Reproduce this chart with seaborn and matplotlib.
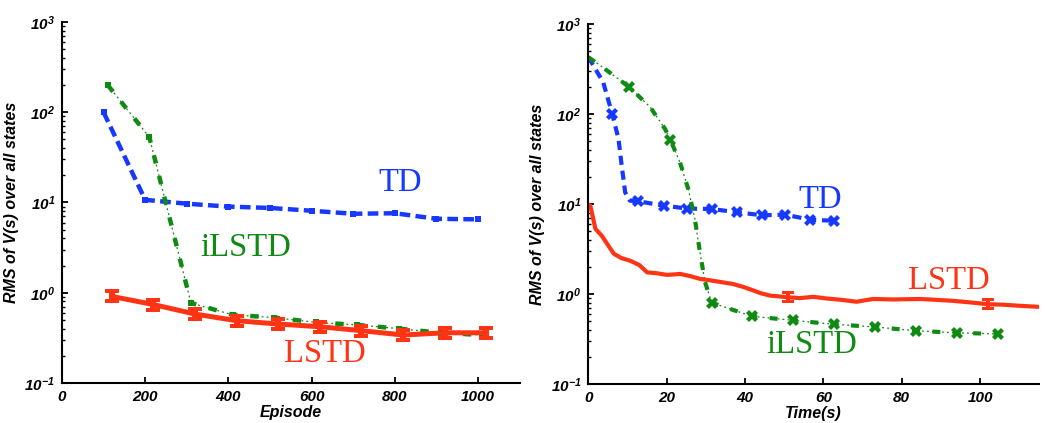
import matplotlib
matplotlib.use("Agg")
import matplotlib.pyplot as plt
from matplotlib.path import Path
from matplotlib.ticker import LogLocator, NullFormatter, FixedLocator
import numpy as np
import pandas as pd
import seaborn as sns

# ---- Error vs. number of episodes ----
episode_td = [100, 200, 300, 400, 500, 600, 700, 800, 900, 1000]
rms_td_ep = [100, 10.7, 9.7, 9.0, 8.7, 8.1, 7.5, 7.6, 6.6, 6.5]

episode_ilstd = [110, 210, 310, 410, 510, 610, 710, 810, 910, 1010]
rms_ilstd_ep = [200, 53, 0.77, 0.57, 0.53, 0.47, 0.44, 0.40, 0.36, 0.34]

episode_lstd = [120, 220, 320, 420, 520, 620, 720, 820, 920, 1020]
rms_lstd_ep = [0.91, 0.74, 0.58, 0.49, 0.45, 0.42, 0.38, 0.34, 0.36, 0.36]

# ---- Error vs. wall-clock time ----
time_td = [0, 3.8, 6.1, 7.7, 8.5, 9.4, 10.6, 12.8, 19.2, 25.2, 31.5, 37.9,
           44.3, 50.3, 56.6, 62.8]
rms_td_t = [430, 225, 100, 53, 27, 13.5, 10.9, 10.7, 9.6, 8.9, 8.8, 8.1,
            7.5, 7.6, 6.7, 6.5]
marks_td_t = [2, 7, 8, 9, 10, 11, 12, 13, 14, 15]

time_ilstd = [0, 2.5, 10.5, 15.8, 19.6, 20.9, 23.4, 25.5, 27.2, 28.5, 29.8,
              31.5, 41.8, 52.2, 62.8, 73.2, 83.7, 94.2, 104.7]
rms_ilstd_t = [427, 360, 198, 119, 68, 52, 29, 14.7, 6.8, 2.9, 1.35, 0.8,
               0.565, 0.51, 0.46, 0.43, 0.39, 0.37, 0.36]
marks_ilstd_t = [2, 5, 11, 12, 13, 14, 15, 16, 17, 18]

time_lstd = [0, 0.5, 1.8, 3.5, 5, 6.5, 8.5, 10.7, 13, 15, 17.5, 20, 23.5, 26,
             28.6, 31, 33.7, 37, 39.5, 42, 44, 46.4, 51, 54, 57.4, 61, 64.3,
             66.5, 68.5, 70.5, 72.7, 78, 84.7, 89, 93, 97, 102, 106, 110, 115]
rms_lstd_t = [9.8, 9.6, 5.3, 4.4, 3.5, 2.8, 2.5, 2.34, 2.1, 1.74, 1.7, 1.63,
              1.67, 1.58, 1.47, 1.42, 1.36, 1.29, 1.2, 1.1, 1.02, 0.96, 0.92,
              0.9, 0.93, 0.89, 0.864, 0.84, 0.82, 0.85, 0.88, 0.87, 0.88,
              0.86, 0.84, 0.81, 0.77, 0.76, 0.74, 0.72]
marks_lstd_t = [22, 36]

x_ticks_ep = [0, 200, 400, 600, 800, 1000]
x_ticks_t = [0, 20, 40, 60, 80, 100]
y_label = "RMS of V(s) over all states"

BLUE = "#1638ff"
GREEN = "#0f8a12"
RED = "#ff3414"

sns.set_style("ticks")
plt.rcParams["font.family"] = ["Liberation Sans", "DejaVu Sans"]
plt.rcParams["axes.linewidth"] = 1.5
for key in ("text.color", "axes.labelcolor", "xtick.color", "ytick.color",
            "axes.edgecolor"):
    plt.rcParams[key] = "black"

# I-beam marker used on the LSTD curve
ibeam = Path([(-1, 1), (1, 1), (1, 0.5), (0.4, 0.5), (0.4, -0.5),
              (1, -0.5), (1, -1), (-1, -1), (-1, -0.5), (-0.4, -0.5),
              (-0.4, 0.5), (-1, 0.5), (-1, 1)], closed=True)

fig = plt.figure(figsize=(10.45, 4.23), dpi=100)
ax1 = fig.add_axes([0.0593, 0.0946, 0.4379, 0.8534])
ax2 = fig.add_axes([0.563, 0.0922, 0.4311, 0.8511])

label_font = dict(fontsize=11.5, fontweight="bold", fontstyle="italic",
                  color="black")
name_font = dict(family="Liberation Serif", fontsize=23.5)


def line(ax, x, y, **kw):
    sns.lineplot(x=x, y=y, ax=ax, sort=False, estimator=None, legend=False, **kw)


# Left panel
line(ax1, episode_td, rms_td_ep, color=BLUE, linewidth=3.2,
     linestyle=(0, (2.4, 1.2)), marker="s", markersize=4, mew=0,
     dash_capstyle="butt")
line(ax1, episode_ilstd, rms_ilstd_ep, color=GREEN, linewidth=0.9,
     linestyle=(0, (1.5, 2.5)))
line(ax1, episode_ilstd, rms_ilstd_ep, color=GREEN, linewidth=3.2,
     linestyle=(0, (1.9, 2.9)), marker="s", markersize=4.5, mew=0,
     dash_capstyle="butt")
line(ax1, episode_lstd, rms_lstd_ep, color=RED, linewidth=3.6,
     marker=ibeam, markersize=10, mew=0)

# Right panel
line(ax2, time_td, rms_td_t, color=BLUE, linewidth=3.0,
     linestyle=(0, (2.2, 1.4)), marker="X", markersize=9, mew=0,
     markevery=marks_td_t, dash_capstyle="butt")
line(ax2, time_ilstd, rms_ilstd_t, color=GREEN, linewidth=0.9,
     linestyle=(0, (1.5, 2.5)))
line(ax2, time_ilstd, rms_ilstd_t, color=GREEN, linewidth=3.0,
     linestyle=(0, (1.9, 3.0)), marker="X", markersize=9, mew=0,
     markevery=marks_ilstd_t, dash_capstyle="butt")
line(ax2, time_lstd, rms_lstd_t, color=RED, linewidth=3.0,
     marker=ibeam, markersize=8, mew=0, markevery=marks_lstd_t)

for ax, xmax, xticks, xlabel in [(ax1, 1100, x_ticks_ep, "Episode"),
                                 (ax2, 115, x_ticks_t, "Time(s)")]:
    ax.set_yscale("log")
    ax.set_ylim(0.1, 1000)
    ax.set_xlim(0, xmax)
    ax.xaxis.set_major_locator(FixedLocator(xticks))
    ax.yaxis.set_major_locator(LogLocator(base=10, numticks=10))
    ax.yaxis.set_minor_locator(LogLocator(base=10, subs=np.arange(2, 10), numticks=10))
    ax.yaxis.set_minor_formatter(NullFormatter())
    ax.tick_params(axis="both", which="major", direction="in", length=4,
                   width=1.3, pad=5, colors="black")
    ax.tick_params(axis="y", which="minor", direction="in", length=2.5,
                   width=1.0, colors="black")
    for lab in ax.get_xticklabels() + ax.get_yticklabels():
        lab.set_fontsize(11)
        lab.set_fontweight("bold")
        lab.set_fontstyle("italic")
        lab.set_color("black")
    ax.set_xlabel(xlabel, labelpad=1, **label_font)
    ax.set_ylabel(y_label, labelpad=4, **label_font)
    sns.despine(ax=ax)
    ax.spines["left"].set_color("black")
    ax.spines["bottom"].set_color("black")

ax1.text(814, 13.3, "TD", color=BLUE, ha="center", va="baseline", **name_font)
ax1.text(441, 2.57, "iLSTD", color=GREEN, ha="center", va="baseline", **name_font)
ax1.text(633, 0.169, "LSTD", color=RED, ha="center", va="baseline", **name_font)

ax2.text(59.3, 8.96, "TD", color=BLUE, ha="center", va="baseline", **name_font)
ax2.text(92.0, 1.137, "LSTD", color=RED, ha="center", va="baseline", **name_font)
ax2.text(57.1, 0.219, "iLSTD", color=GREEN, ha="center", va="baseline", **name_font)

fig.savefig("out.png", dpi=100)
